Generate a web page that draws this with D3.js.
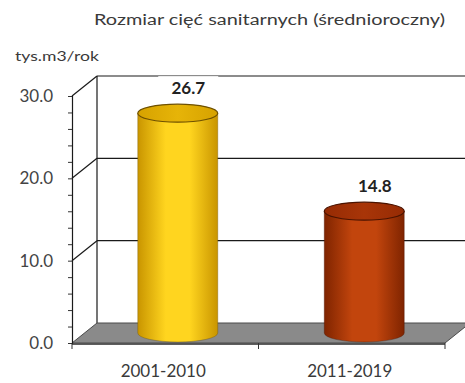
<!DOCTYPE html>
<html>
<head>
<meta charset="utf-8">
<script src="https://cdn.jsdelivr.net/npm/d3@7/dist/d3.min.js"></script>
<style>
  html, body { margin: 0; padding: 0; background: #fff; }
  svg { display: block; font-family: Lato, "Open Sans", sans-serif; }
</style>
</head>
<body>
<svg id="chart" width="465" height="383"></svg>
<script>
// Sanitary felling volume, yearly average per period
const categories = ["2001-2010", "2011-2019"];
const values = [26.7, 14.8];
const majorTicks = [0, 10, 20, 30];
const minorTicks = d3.range(0, 31, 2);
const titleText = "Rozmiar cięć sanitarnych (średnioroczny)";
const unitText = "tys.m3/rok";

const palette = [
  { edge: "#c99500", light: "#ffd51f", top: "#d6a200", topLight: "#e6b408", stroke: "#6e5000" },
  { edge: "#7f2400", light: "#c2450d", top: "#962b04", topLight: "#a83508", stroke: "#4a1300" }
];

const svg = d3.select("#chart");
const defs = svg.append("defs");

// oblique depth offset of the back wall
const depth = { dx: 25, dy: -20 };

const x = d3.scaleBand().domain(categories).range([72, 445]).paddingInner(0).paddingOuter(0);
const y = d3.scaleLinear().domain([0, 30]).range([343, 96]);

// title and unit
svg.append("text").attr("x", 94).attr("y", 25)
  .attr("font-size", 15.5).attr("fill", "#3a3a3a")
  .attr("textLength", 351).attr("lengthAdjust", "spacingAndGlyphs").text(titleText);
svg.append("text").attr("x", 15).attr("y", 61)
  .attr("font-size", 13.5).attr("fill", "#3a3a3a")
  .attr("textLength", 84).attr("lengthAdjust", "spacingAndGlyphs").text(unitText);

// back wall gridlines and left wall diagonals
const grid = svg.append("g").attr("stroke", "#1a1a1a").attr("stroke-width", 1.2).attr("fill", "none");
majorTicks.filter(v => v > 0).forEach(v => {
  grid.append("line")
    .attr("x1", 72 + depth.dx).attr("x2", 480)
    .attr("y1", y(v) + depth.dy).attr("y2", y(v) + depth.dy);
  grid.append("line")
    .attr("x1", 72).attr("y1", y(v))
    .attr("x2", 72 + depth.dx).attr("y2", y(v) + depth.dy);
});
grid.append("line")
  .attr("x1", 72 + depth.dx).attr("x2", 72 + depth.dx)
  .attr("y1", y(30) + depth.dy).attr("y2", y(0) + depth.dy);

// floor
const [fx0, fx1] = x.range();
const floorPts = [
  [fx0, y(0)], [fx1, y(0)], [fx1 + depth.dx, y(0) + depth.dy], [fx0 + depth.dx, y(0) + depth.dy]
];
svg.append("path")
  .attr("d", `M${fx0},${y(0)}L${fx1},${y(0)}L${fx1},${y(0) + 2}L${fx0},${y(0) + 2}Z`)
  .attr("fill", "#5e5e5e");
svg.append("polygon").attr("points", floorPts.map(p => p.join(",")).join(" "))
  .attr("fill", "#8a8a8a").attr("stroke", "#4a4a4a").attr("stroke-width", 1);

// value axis: minor and major ticks, then labels
svg.append("g").attr("transform", "translate(72,0)")
  .call(d3.axisLeft(y).tickValues(minorTicks).tickSize(4).tickFormat(""))
  .call(g => g.select(".domain").attr("stroke", "#1a1a1a").attr("stroke-width", 1.2))
  .call(g => g.selectAll(".tick line").attr("stroke", "#333"));
svg.append("g").attr("transform", "translate(72,0)")
  .call(d3.axisLeft(y).tickValues(majorTicks).tickSize(0).tickPadding(19).tickFormat(d3.format(".1f")))
  .call(g => g.select(".domain").remove())
  .call(g => g.selectAll("text").attr("font-size", 17).attr("fill", "#444")
    .attr("font-family", "Lato, 'Open Sans', sans-serif"));

// category axis ticks and labels
const catTicks = [fx0, fx0 + x.bandwidth(), fx1];
svg.append("g").selectAll("line").data(catTicks).join("line")
  .attr("x1", d => d).attr("x2", d => d).attr("y1", y(0)).attr("y2", y(0) + 6)
  .attr("stroke", "#333").attr("stroke-width", 1);
svg.append("g").selectAll("text").data(categories).join("text")
  .attr("x", d => x(d) + x.bandwidth() / 2 - 2)
  .attr("y", 377)
  .attr("text-anchor", "middle").attr("font-size", 17).attr("fill", "#3a3a3a")
  .text(d => d);

// cylinders at mid depth
const rx = 40, ry = 9;
const bars = svg.append("g");
values.forEach((v, i) => {
  const c = palette[i];
  const gid = "body" + i, tid = "top" + i;
  const g1 = defs.append("linearGradient").attr("id", gid).attr("x1", "0").attr("x2", "1").attr("y1", "0").attr("y2", "0");
  g1.append("stop").attr("offset", "0%").attr("stop-color", c.edge);
  g1.append("stop").attr("offset", "35%").attr("stop-color", c.light);
  g1.append("stop").attr("offset", "65%").attr("stop-color", c.light);
  g1.append("stop").attr("offset", "100%").attr("stop-color", c.edge);
  const g2 = defs.append("linearGradient").attr("id", tid).attr("x1", "0").attr("x2", "1").attr("y1", "0").attr("y2", "0");
  g2.append("stop").attr("offset", "0%").attr("stop-color", c.top);
  g2.append("stop").attr("offset", "50%").attr("stop-color", c.topLight);
  g2.append("stop").attr("offset", "100%").attr("stop-color", c.top);

  const cx = x(categories[i]) + x.bandwidth() / 2 + depth.dx / 2;
  const yTop = y(v) + depth.dy / 2;
  const yBot = y(0) + depth.dy / 2;
  const body = `M${cx - rx},${yTop} L${cx - rx},${yBot} A${rx},${ry} 0 0 0 ${cx + rx},${yBot} L${cx + rx},${yTop} Z`;
  bars.append("path").attr("d", body).attr("fill", `url(#${gid})`)
    .attr("stroke", c.stroke).attr("stroke-width", 0.6).attr("stroke-opacity", 0.6);
  bars.append("ellipse").attr("cx", cx).attr("cy", yTop).attr("rx", rx).attr("ry", ry)
    .attr("fill", `url(#${tid})`).attr("stroke", c.stroke).attr("stroke-width", 1.2);

  // value label with white backing
  const lx = x(categories[i]) + x.bandwidth() / 2 + depth.dx - 2;
  const ly = y(v) + depth.dy - 9;
  bars.append("rect").attr("x", lx - 30).attr("y", ly - 18).attr("width", 60).attr("height", 24).attr("fill", "#fff");
  bars.append("text").attr("x", lx).attr("y", ly)
    .attr("text-anchor", "middle").attr("font-size", 17).attr("font-weight", "bold").attr("fill", "#222")
    .text(d3.format(".1f")(v));
});
</script>
</body>
</html>
